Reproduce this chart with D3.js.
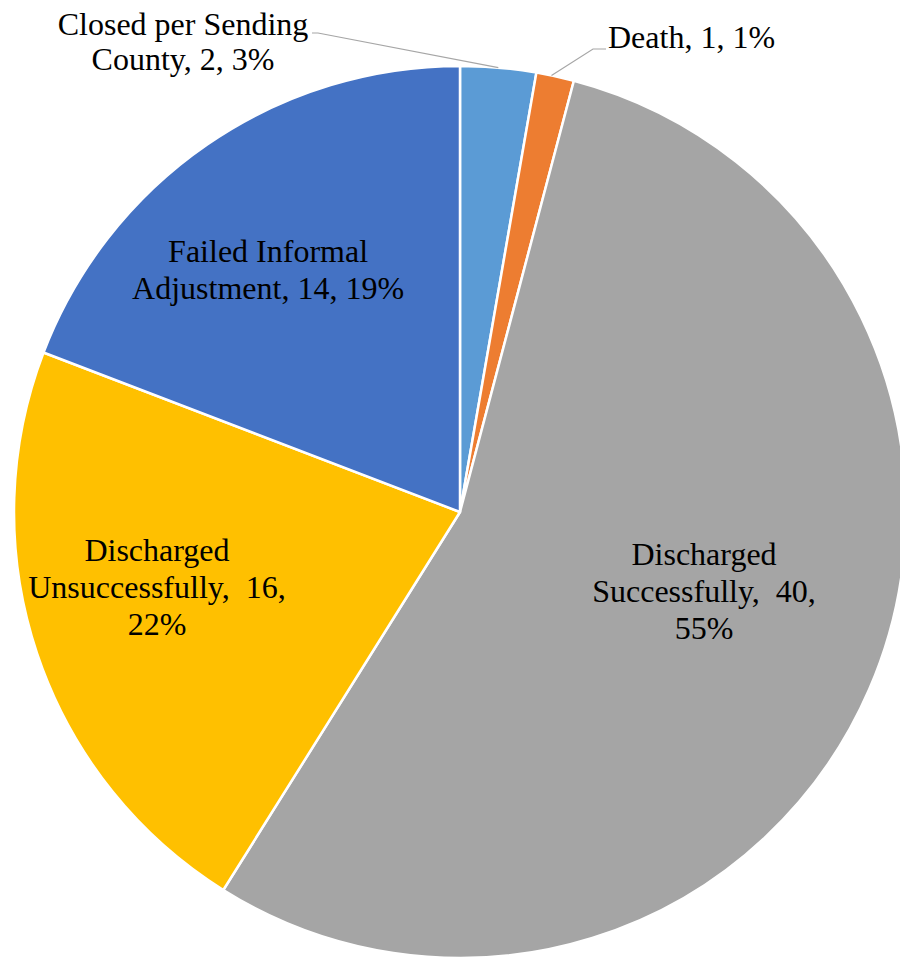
<!DOCTYPE html>
<html>
<head>
<meta charset="utf-8">
<script src="https://cdn.jsdelivr.net/npm/d3@7"></script>
<style>
html,body{margin:0;padding:0;background:#fff;}
svg{display:block;}
</style>
</head>
<body>
<svg id="chart" width="900" height="960"></svg>
<script>
const categories = ["Closed per Sending County", "Death", "Discharged Successfully", "Discharged Unsuccessfully", "Failed Informal Adjustment"];
const values = [2, 1, 40, 16, 14];
const percents = ["3%", "1%", "55%", "22%", "19%"];
const colors = ["#5B9BD5", "#ED7D31", "#A5A5A5", "#FFC000", "#4472C4"];
const labelLines = [
  ["Closed per Sending", "County, 2, 3%"],
  ["Death, 1, 1%"],
  ["Discharged", "Successfully,  40,", "55%"],
  ["Discharged", "Unsuccessfully,  16,", "22%"],
  ["Failed Informal", "Adjustment, 14, 19%"]
];

const FONT = "'Liberation Serif', 'Times New Roman', Times, serif";
const svg = d3.select("#chart");
const cx = 460, cy = 512, r = 446;
const g = svg.append("g").attr("transform", `translate(${cx},${cy})`);

const data = categories.map((c, i) => ({cat: c, value: values[i], color: colors[i], lines: labelLines[i]}));
const pie = d3.pie().value(d => d.value).sort(null);
const arcs = pie(data);
const arc = d3.arc().innerRadius(0).outerRadius(r);

g.selectAll("path.slice").data(arcs).join("path")
  .attr("class", "slice")
  .attr("d", arc)
  .attr("fill", d => d.data.color)
  .attr("stroke", "#fff")
  .attr("stroke-width", 2.5)
  .attr("stroke-linejoin", "round");

const fs = 32, lh = 37;
// inside labels: [radius fraction, angular fraction within slice]
const inside = [null, null, [0.575, 0.472], [0.70, 0.558], [0.693, 0.444]];

arcs.forEach((a, i) => {
  if (!inside[i]) return;
  const ang = a.startAngle + (a.endAngle - a.startAngle) * inside[i][1];
  const rr = r * inside[i][0];
  const x = Math.sin(ang) * rr, y = -Math.cos(ang) * rr;
  const n = a.data.lines.length;
  const t = g.append("text").attr("text-anchor", "middle").attr("font-size", fs)
    .attr("font-family", FONT).attr("fill", "#000").style("white-space", "pre");
  a.data.lines.forEach((ln, k) => {
    t.append("tspan").attr("x", x).attr("y", y + (k - (n - 1) / 2) * lh + fs * 0.34).text(ln);
  });
});

const edge = (a, frac) => {
  const ang = a.startAngle + (a.endAngle - a.startAngle) * frac;
  return [Math.sin(ang) * r, -Math.cos(ang) * r];
};
// Closed per Sending County (outside, upper left)
{
  const a = arcs[0];
  const p = edge(a, 0.5);
  const pts = [[p[0], p[1]], [318 - cx, 33 - cy], [312 - cx, 33 - cy]];
  g.append("polyline").attr("points", pts.map(d => d.join(",")).join(" "))
    .attr("fill", "none").attr("stroke", "#A6A6A6").attr("stroke-width", 1.2);
  const t = g.append("text").attr("text-anchor", "middle").attr("font-size", fs)
    .attr("font-family", FONT).attr("fill", "#000");
  a.data.lines.forEach((ln, k) => {
    t.append("tspan").attr("x", 183 - cx).attr("y", 35 - cy + k * 35).text(ln);
  });
}
// Death (outside, upper right)
{
  const a = arcs[1];
  const p = edge(a, 0.4);
  const pts = [[p[0], p[1]], [593 - cx, 49 - cy], [606 - cx, 49 - cy]];
  g.append("polyline").attr("points", pts.map(d => d.join(",")).join(" "))
    .attr("fill", "none").attr("stroke", "#A6A6A6").attr("stroke-width", 1.2);
  g.append("text").attr("text-anchor", "start").attr("font-size", fs)
    .attr("font-family", FONT).attr("fill", "#000")
    .attr("x", 608 - cx).attr("y", 48 - cy).text(a.data.lines[0]);
}
</script>
</body>
</html>
